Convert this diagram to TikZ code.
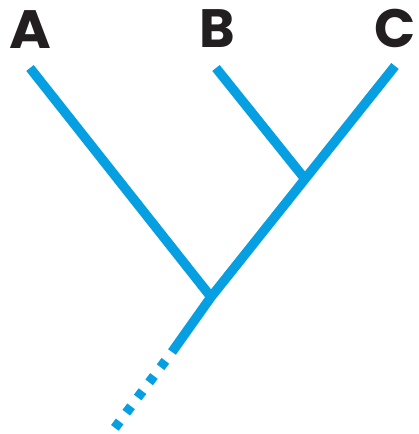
\documentclass[tikz,border=0pt]{standalone}
\usepackage{fontspec}
\setmainfont{Poppins}
\definecolor{treeblue}{HTML}{06A0E2}
\definecolor{labelink}{HTML}{231F20}
\begin{document}
\begin{tikzpicture}[x=1pt,y=-1pt,
  branch/.style={draw=treeblue,line width=9.5pt,line cap=butt},
  stem/.style={draw=treeblue,line width=9.5pt,line cap=butt,dash pattern=on 8pt off 11pt,dash phase=8pt},
  taxon/.style={text=labelink,font=\fontsize{54}{54}\selectfont\bfseries,inner sep=0pt,anchor=center}]
\useasboundingbox (0,0) rectangle (418,434);
\coordinate (a) at (30,68);
\coordinate (b) at (216,68);
\coordinate (c) at (395,66);
\coordinate (n1) at (211,297);
\coordinate (n2) at (305,179);
\coordinate (s) at (172,352);
\coordinate (e) at (114,429);
\node[taxon,xscale=1.05] (la) at (30,30) {A};
\node[taxon] (lb) at (217,29) {B};
\node[taxon] (lc) at (395,28) {C};
\draw[branch] (a) -- (n1);
\draw[branch] (b) -- (n2);
\draw[branch] (c) -- (n2) -- (n1) -- (s);
\draw[stem] (s) -- (e);
\end{tikzpicture}
\end{document}
